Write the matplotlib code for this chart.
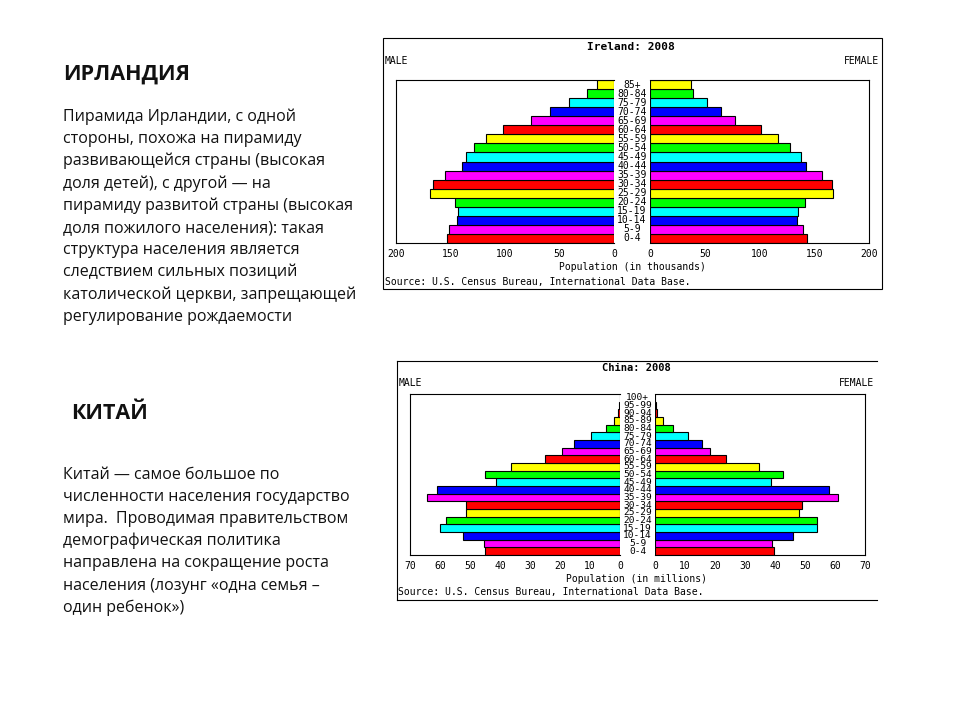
import matplotlib
matplotlib.use("Agg")
import matplotlib.pyplot as plt
from matplotlib.lines import Line2D
from matplotlib.patches import Rectangle

# ---------------- data ----------------
ireland_ages = ["0-4", "5-9", "10-14", "15-19", "20-24", "25-29", "30-34", "35-39",
                "40-44", "45-49", "50-54", "55-59", "60-64", "65-69", "70-74",
                "75-79", "80-84", "85+"]
ireland_male = [153, 151, 144, 143, 146, 169, 166, 155, 139, 136, 128, 117, 102,
                76, 59, 41, 24.5, 16]
ireland_female = [143.5, 139.5, 134.5, 135, 141.5, 167, 166, 157, 142.5, 138,
                  128, 117, 101.5, 78, 65, 52, 39.5, 37]

china_ages = ["0-4", "5-9", "10-14", "15-19", "20-24", "25-29", "30-34", "35-39",
              "40-44", "45-49", "50-54", "55-59", "60-64", "65-69", "70-74",
              "75-79", "80-84", "85-89", "90-94", "95-99", "100+"]
china_male = [44.9, 45.2, 52.3, 59.9, 58.0, 51.2, 51.2, 64.2, 61.0, 41.2, 44.9,
              36.2, 24.9, 19.2, 15.2, 9.8, 4.8, 1.9, 0.7, 0.3, 0.1]
china_female = [39.7, 39.0, 46.0, 53.9, 53.9, 48.0, 49.0, 61.0, 58.0, 38.6, 42.7,
                34.6, 23.7, 18.2, 15.7, 11.0, 5.9, 2.7, 0.6, 0.2, 0.1]

ireland_ticks = [0, 50, 100, 150, 200]
china_ticks = [0, 10, 20, 30, 40, 50, 60, 70]

palette = ["#ff0000", "#ff00ff", "#0000ff", "#00ffff", "#00ff00", "#ffff00"]

ireland_text = [
    "Пирамида Ирландии, с одной",
    "стороны, похожа на пирамиду",
    "развивающейся страны (высокая",
    "доля детей), с другой — на",
    "пирамиду развитой страны (высокая",
    "доля пожилого населения): такая",
    "структура населения является",
    "следствием сильных позиций",
    "католической церкви, запрещающей",
    "регулирование рождаемости",
]
china_text = [
    "Китай — самое большое по",
    "численности населения государство",
    "мира.  Проводимая правительством",
    "демографическая политика",
    "направлена на сокращение роста",
    "населения (лозунг «одна семья –",
    "один ребенок»)",
]

# ---------------- figure ----------------
W, H = 960, 720
fig = plt.figure(figsize=(9.6, 7.2), dpi=100)
fig.patch.set_facecolor("white")

MONO = "DejaVu Sans Mono"
BODY = "Open Sans"


def fx(x):
    return x / W


def fy(y):
    return 1 - y / H


def add_ax(x0, y0, x1, y1):
    return fig.add_axes([fx(x0), fy(y1), fx(x1 - x0), (y1 - y0) / H])


def ftext(x, y, s, **kw):
    fig.text(fx(x), fy(y), s, **kw)


def pyramid(box_left, box_right, ages, male, female, ticks, xmax, fs_age,
            tick_y_pad):
    (lx0, ly0, lx1, ly1) = box_left
    (rx0, ry0, rx1, ry1) = box_right
    n = len(ages)
    pos = list(range(n))
    cols = [palette[i % len(palette)] for i in range(n)]

    axl = add_ax(lx0, ly0, lx1, ly1)
    axr = add_ax(rx0, ry0, rx1, ry1)
    axm = add_ax(lx1, ly0, rx0, ly1)

    axl.barh(pos, male, height=1.0, color=cols, edgecolor="black", linewidth=0.8)
    axr.barh(pos, female, height=1.0, color=cols, edgecolor="black", linewidth=0.8)
    axl.set_xlim(xmax, 0)
    axr.set_xlim(0, xmax)
    for ax in (axl, axr):
        ax.set_ylim(-0.5, n - 0.5)
        ax.set_yticks([])
        ax.set_xticks(ticks)
        ax.set_xticklabels([str(t) for t in ticks], fontsize=7, family=MONO)
        ax.tick_params(axis="x", length=0, pad=tick_y_pad)
        for sp in ax.spines.values():
            sp.set_linewidth(0.8)
    axl.spines["right"].set_visible(False)
    axr.spines["left"].set_visible(False)

    axm.set_xlim(0, 1)
    axm.set_ylim(-0.5, n - 0.5)
    axm.axis("off")
    for i, a in enumerate(ages):
        axm.text(0.5, i, a, ha="center", va="center", fontsize=fs_age,
                 family=MONO, color="black")


# ---------- Ireland ----------
fig.add_artist(Rectangle((fx(383), fy(289)), fx(882 - 383), (289 - 38) / H,
                         transform=fig.transFigure, fill=False,
                         edgecolor="black", linewidth=0.8))
ftext(631, 47, "Ireland: 2008", ha="center", va="center", fontsize=8,
      family=MONO, weight="bold")
ftext(385, 61, "MALE", ha="left", va="center", fontsize=7, family=MONO)
ftext(879, 61, "FEMALE", ha="right", va="center", fontsize=7, family=MONO)
pyramid((396, 80, 614, 243), (650, 80, 869, 243), ireland_ages,
        ireland_male, ireland_female, ireland_ticks, 200, 7, 4.5)
ftext(632, 267, "Population (in thousands)", ha="center", va="center",
      fontsize=7, family=MONO)
ftext(385, 282, "Source: U.S. Census Bureau, International Data Base.",
      ha="left", va="center", fontsize=7, family=MONO)

# ---------- China ----------
for (xa, ya, xb, yb) in [(397, 360.5, 877, 360.5), (397, 599.5, 877, 599.5),
                         (397, 360.5, 397, 599.5)]:
    fig.add_artist(Line2D([fx(xa), fx(xb)], [fy(ya), fy(yb)],
                          transform=fig.transFigure, color="black",
                          linewidth=0.8))
ftext(636, 368, "China: 2008", ha="center", va="center", fontsize=7.5,
      family=MONO, weight="bold")
ftext(399, 383, "MALE", ha="left", va="center", fontsize=7, family=MONO)
ftext(874, 383, "FEMALE", ha="right", va="center", fontsize=7, family=MONO)
pyramid((410, 394, 620, 555), (655, 394, 865, 555), china_ages,
        china_male, china_female, china_ticks, 70, 6.8, 4)
ftext(636, 579, "Population (in millions)", ha="center", va="center",
      fontsize=7, family=MONO)
ftext(398, 592, "Source: U.S. Census Bureau, International Data Base.",
      ha="left", va="center", fontsize=7, family=MONO)

# ---------- Left side texts ----------
ftext(63, 80, "ИРЛАНДИЯ", ha="left", va="baseline", fontsize=15.5,
      family=BODY, weight="bold", color="#111111")
for i, line in enumerate(ireland_text):
    ftext(63, 121 + i * 22.2, line, ha="left", va="baseline", fontsize=11.5,
          family=BODY, color="#111111")

ftext(71, 418.5, "КИТАЙ", ha="left", va="baseline", fontsize=15.5,
      family=BODY, weight="bold", color="#111111")
for i, line in enumerate(china_text):
    ftext(63, 479 + i * 22.1, line, ha="left", va="baseline", fontsize=11.5,
          family=BODY, color="#111111")

fig.savefig("out.png", dpi=100, facecolor="white")
